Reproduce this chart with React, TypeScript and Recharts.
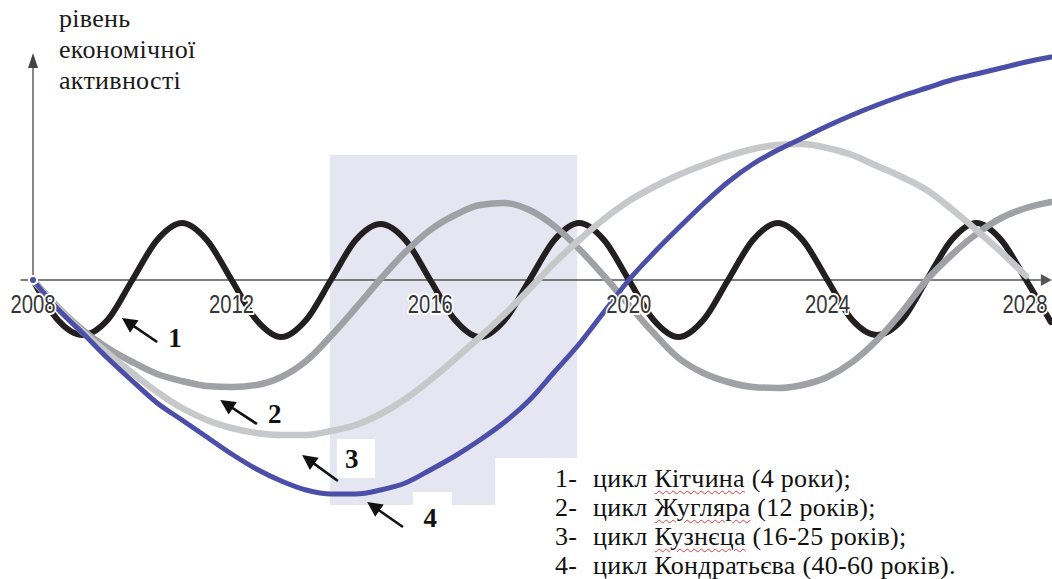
import { LineChart, Line, XAxis, YAxis, ReferenceArea, ReferenceLine, ReferenceDot } from "recharts";

// half-year steps, values (0 = the horizontal axis)
const YEARS = [
  2008, 2008.5, 2009, 2009.5, 2010, 2010.5, 2011, 2011.5, 2012, 2012.5,
  2013, 2013.5, 2014, 2014.5, 2015, 2015.5, 2016, 2016.5, 2017, 2017.5,
  2018, 2018.5, 2019, 2019.5, 2020, 2020.5, 2021, 2021.5, 2022, 2022.5,
  2023, 2023.5, 2024, 2024.5, 2025, 2025.5, 2026, 2026.5, 2027, 2027.5,
  2028, 2028.5,
];

const KITCHIN = [
  0, -40, -55, -40, 0, 40, 57, 40, 0, -40,
  -57, -40, 0, 40, 56, 40, 0, -40, -57, -40,
  0, 40, 57, 40, 0, -40, -57, -40, 0, 40,
  57, 40, 0, -40, -55, -40, 0, 40, 57, 40,
  0, -42,
];

const JUGLAR = [
  0, -27, -50, -68, -82, -94, -101, -106, -107, -105,
  -97, -81, -56, -28, 1, 28, 50, 65, 75, 77,
  70, 54, 31, 4, -25, -53, -78, -93, -102, -107,
  -108, -105, -97, -82, -60, -32, 0, 25, 46, 62,
  72, 78,
];

const KUZNETS = [
  0, -28, -52, -73, -93, -112, -128, -140, -148, -153,
  -155, -155, -151, -145, -134, -119, -100, -79, -57, -34,
  -9, 17, 40, 61, 79, 93, 105, 115, 124, 131,
  135, 136, 132, 125, 114, 103, 90, 71, 50, 28,
  4, null,
];

const KONDRATIEV = [
  0, -29, -53, -78, -101, -123, -140, -157, -174, -189,
  -201, -210, -214, -214, -210, -203, -190, -176, -160, -142,
  -120, -92, -64, -32, 0, 27, 52, 76, 98, 116,
  130, 142, 154, 165, 175, 184, 192, 200, 206, 212,
  218, 223,
];

const TICK_YEARS = [2008, 2012, 2016, 2020, 2024, 2028];

const TITLE_LINES = ["рівень", "економічної", "активності"];

const LEGEND = [
  { num: "1-", word: "цикл", name: "Кітчина", rest: " (4 роки);", marked: true },
  { num: "2-", word: "цикл", name: "Жугляра", rest: " (12 років);", marked: true },
  { num: "3-", word: "цикл", name: "Кузнєца", rest: " (16-25 років);", marked: true },
  { num: "4-", word: "цикл", name: "Кондратьєва", rest: " (40-60 років).", marked: false },
];

// numbered pointer arrows: tail -> head, plus where the number sits
const POINTERS = [
  { n: "1", tail: [2010.5, -62], head: [2009.79, -38], at: [2010.86, -67] },
  { n: "2", tail: [2012.51, -144], head: [2011.77, -120], at: [2012.87, -143] },
  { n: "3", tail: [2014.14, -201], head: [2013.42, -175], at: [2014.42, -188] },
  { n: "4", tail: [2015.45, -247], head: [2014.73, -222], at: [2016.0, -247] },
];

const data = YEARS.map((year, i) => ({
  year,
  kitchin: KITCHIN[i],
  juglar: JUGLAR[i],
  kuznets: KUZNETS[i],
  kondratiev: KONDRATIEV[i],
}));

const W = 1052;
const H = 579;
const SERIF = "Liberation Serif, Times New Roman, DejaVu Serif, Noto Serif, serif";

function Arrow(props: any) {
  const { x1, y1, x2, y2, color = "#111", width = 2.5, len = 14, half = 6.5 } = props;
  if ([x1, y1, x2, y2].some((v) => typeof v !== "number" || isNaN(v))) return null;
  const dx = x2 - x1;
  const dy = y2 - y1;
  const d = Math.sqrt(dx * dx + dy * dy) || 1;
  const ux = dx / d;
  const uy = dy / d;
  const bx = x2 - ux * len;
  const by = y2 - uy * len;
  const pts = `${x2},${y2} ${bx - uy * half},${by + ux * half} ${bx + uy * half},${by - ux * half}`;
  return (
    <g>
      <line x1={x1} y1={y1} x2={bx + ux * 2} y2={by + uy * 2} stroke={color} strokeWidth={width} />
      <polygon points={pts} fill={color} />
    </g>
  );
}

function arrowShape(opts: any) {
  return (p: any) => <Arrow {...p} {...opts} />;
}

export default function App() {
  return (
    <div style={{ position: "absolute", left: 0, top: 0, width: W, height: H, background: "#fff" }}>
      <LineChart width={W} height={H} data={data} margin={{ top: 0, right: 0, bottom: 0, left: 0 }}>
        <XAxis hide type="number" dataKey="year" domain={[2007.335, 2028.523]} allowDataOverflow />
        <YAxis hide type="number" domain={[-299, 280]} allowDataOverflow />

        <ReferenceArea x1={2013.98} x2={2018.96} y1={-225} y2={125} fill="#e6e6f3" fillOpacity={1} stroke="none" />
        <ReferenceArea x1={2014.12} x2={2014.89} y1={-198} y2={-159} fill="#fff" fillOpacity={1} stroke="none" />
        <ReferenceArea x1={2015.65} x2={2016.44} y1={-232} y2={-212} fill="#fff" fillOpacity={1} stroke="none" />
        <ReferenceArea x1={2017.31} x2={2019.3} y1={-232} y2={-178} fill="#fff" fillOpacity={1} stroke="none" />

        <ReferenceLine
          segment={[{ x: 2007.75, y: 0 }, { x: 2028.52, y: 0 }]}
          shape={arrowShape({ color: "#555", width: 1.3, len: 11, half: 6 })}
        />
        <ReferenceLine
          segment={[{ x: 2008, y: 0 }, { x: 2008, y: 227 }]}
          shape={arrowShape({ color: "#444", width: 1.3, len: 15, half: 5 })}
        />

        <Line type="monotone" dataKey="kitchin" stroke="#231f20" strokeWidth={6} dot={false} isAnimationActive={false} strokeLinecap="round" />
        <Line type="monotone" dataKey="juglar" stroke="#a0a1a4" strokeWidth={6.5} dot={false} isAnimationActive={false} strokeLinecap="round" />
        <Line type="monotone" dataKey="kuznets" stroke="#c7c8ca" strokeWidth={6.5} dot={false} isAnimationActive={false} strokeLinecap="round" />
        <Line type="monotone" dataKey="kondratiev" stroke="#4b4fa7" strokeWidth={5} dot={false} isAnimationActive={false} strokeLinecap="round" />

        {POINTERS.map((p) => (
          <ReferenceLine
            key={"a" + p.n}
            segment={[{ x: p.tail[0], y: p.tail[1] }, { x: p.head[0], y: p.head[1] }]}
            shape={arrowShape({ color: "#111", width: 2.6, len: 15, half: 7.5 })}
          />
        ))}
        {POINTERS.map((p) => (
          <ReferenceDot
            key={"n" + p.n}
            x={p.at[0]}
            y={p.at[1]}
            r={0}
            shape={(s: any) => (
              <text x={s.cx} y={s.cy} textAnchor="middle" style={{ fontFamily: SERIF }} fontWeight="bold" fontSize={27} fill="#111">
                {p.n}
              </text>
            )}
          />
        ))}
        {TICK_YEARS.map((t) => (
          <ReferenceDot
            key={"t" + t}
            x={t}
            y={0}
            r={0}
            shape={(s: any) => (
              <text
                x={Math.min(s.cx, 1025)}
                y={s.cy + 33}
                textAnchor="middle"
                fontFamily="'Liberation Sans Narrow', 'Arial Narrow', 'Liberation Sans', sans-serif"
                fontSize={26}
                textLength={45}
                lengthAdjust="spacingAndGlyphs"
                fill="#363636"
                stroke="#fff"
                strokeWidth={4}
                strokeLinejoin="round"
                paintOrder="stroke"
              >
                {t}
              </text>
            )}
          />
        ))}
      </LineChart>

      <div
        style={{
          position: "absolute",
          left: 59,
          top: 3,
          fontFamily: SERIF,
          fontSize: 26,
          letterSpacing: "0.3px",
          lineHeight: "31px",
          color: "#1a1a1a",
        }}
      >
        {TITLE_LINES.map((l) => (
          <div key={l}>{l}</div>
        ))}
      </div>

      <div
        style={{
          position: "absolute",
          left: 555,
          top: 464,
          fontFamily: SERIF,
          fontSize: 26,
          letterSpacing: "0.3px",
          lineHeight: "29px",
          color: "#111",
          whiteSpace: "nowrap",
        }}
      >
        {LEGEND.map((l) => (
          <div key={l.num}>
            <span style={{ display: "inline-block", width: 38 }}>{l.num}</span>
            {l.word}{" "}
            <span
              style={
                l.marked
                  ? { textDecoration: "underline wavy #e0393e", textDecorationThickness: "1px", textUnderlineOffset: "3px" }
                  : undefined
              }
            >
              {l.name}
            </span>
            {l.rest}
          </div>
        ))}
      </div>
    </div>
  );
}
